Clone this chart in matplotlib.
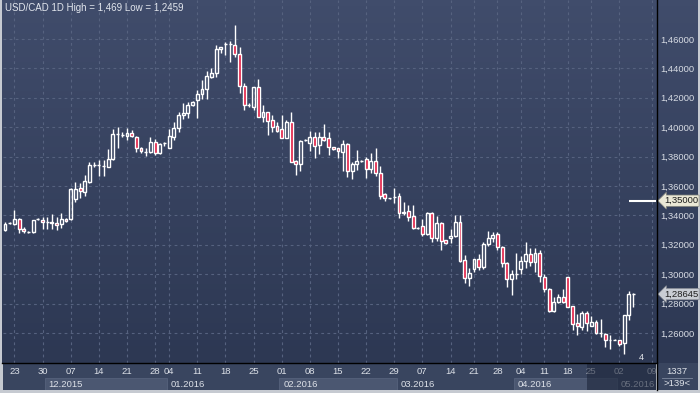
import numpy as np
import matplotlib
matplotlib.use('Agg')
import matplotlib.pyplot as plt
from matplotlib.patches import Rectangle
from matplotlib.lines import Line2D
from matplotlib.colors import LinearSegmentedColormap

plt.rcParams['font.family'] = ['Liberation Sans', 'DejaVu Sans']

# --- data (daily USD/CAD candles) ---
title = 'USD/CAD 1D High = 1,469 Low = 1,2459'

opens = [1.3301, 1.3349, 1.3342, 1.3376, 1.3308, 1.3290, 1.3287, 1.3376, 1.3369, 1.3355,
         1.3357, 1.3347, 1.3340, 1.3376, 1.3374, 1.3510, 1.3585, 1.3561, 1.3629, 1.3745,
         1.3742, 1.3736, 1.3731, 1.3782, 1.3954, 1.3950, 1.3940, 1.3963, 1.3936, 1.3857,
         1.3833, 1.3833, 1.3901, 1.3823, 1.3889, 1.3861, 1.3933, 1.3995, 1.4083, 1.4097,
         1.4151, 1.4183, 1.4224, 1.4260, 1.4343, 1.4367, 1.4530, 1.4563, 1.4564, 1.4559,
         1.4496, 1.4280, 1.4151, 1.4140, 1.4271, 1.4071, 1.4101, 1.4049, 1.4008, 1.3988,
         1.3929, 1.4033, 1.3772, 1.3748, 1.3911, 1.3891, 1.3931, 1.3879, 1.3931, 1.3925,
         1.3863, 1.3857, 1.3833, 1.3884, 1.3704, 1.3748, 1.3770, 1.3782, 1.3714, 1.3770,
         1.3687, 1.3544, 1.3517, 1.3524, 1.3532, 1.3426, 1.3430, 1.3396, 1.3317, 1.3328,
         1.3272, 1.3415, 1.3249, 1.3347, 1.3233, 1.3245, 1.3260, 1.3353, 1.3097, 1.2972,
         1.3034, 1.3102, 1.3047, 1.3204, 1.3245, 1.3272, 1.3183, 1.3079, 1.2966, 1.3004,
         1.3036, 1.3090, 1.3138, 1.3086, 1.3147, 1.2981, 1.2898, 1.2750, 1.2813, 1.2843,
         1.2979, 1.2784, 1.2667, 1.2643, 1.2734, 1.2650, 1.2673, 1.2598, 1.2592, 1.2553,
         1.2553, 1.2553, 1.2530, 1.2723, 1.2864]

highs = [1.3355, 1.3356, 1.3437, 1.3380, 1.3321, 1.3294, 1.3372, 1.3380, 1.3389, 1.3389,
         1.3410, 1.3392, 1.3414, 1.3380, 1.3585, 1.3629, 1.3623, 1.3675, 1.3765, 1.3765,
         1.3777, 1.3777, 1.3850, 1.3986, 1.4003, 1.3970, 1.3993, 1.3980, 1.3940, 1.3867,
         1.3857, 1.3936, 1.3918, 1.3890, 1.3901, 1.3986, 1.4035, 1.4103, 1.4165, 1.4169,
         1.4178, 1.4253, 1.4319, 1.4382, 1.4405, 1.4559, 1.4545, 1.4581, 1.4586, 1.4695,
         1.4543, 1.4299, 1.4163, 1.4274, 1.4328, 1.4151, 1.4104, 1.4083, 1.4037, 1.4083,
         1.4049, 1.4101, 1.3775, 1.3913, 1.3918, 1.3976, 1.3970, 1.3970, 1.4020, 1.3970,
         1.3867, 1.3860, 1.3913, 1.3890, 1.3765, 1.3845, 1.3775, 1.3795, 1.3823, 1.3857,
         1.3736, 1.3551, 1.3521, 1.3585, 1.3551, 1.3493, 1.3471, 1.3471, 1.3320, 1.3374,
         1.3425, 1.3426, 1.3396, 1.3357, 1.3236, 1.3308, 1.3403, 1.3403, 1.3131, 1.3041,
         1.3104, 1.3138, 1.3222, 1.3294, 1.3285, 1.3285, 1.3192, 1.3085, 1.3029, 1.3143,
         1.3124, 1.3222, 1.3177, 1.3177, 1.3165, 1.2998, 1.2905, 1.2847, 1.2864, 1.2898,
         1.2983, 1.2784, 1.2728, 1.2750, 1.2750, 1.2718, 1.2689, 1.2696, 1.2598, 1.2587,
         1.2556, 1.2553, 1.2723, 1.2886, 1.2870]

lows = [1.3294, 1.3342, 1.3338, 1.3281, 1.3281, 1.3283, 1.3283, 1.3370, 1.3308, 1.3308,
        1.3306, 1.3301, 1.3312, 1.3358, 1.3370, 1.3493, 1.3517, 1.3532, 1.3619, 1.3731,
        1.3668, 1.3668, 1.3729, 1.3780, 1.3857, 1.3936, 1.3913, 1.3936, 1.3833, 1.3823,
        1.3804, 1.3823, 1.3811, 1.3816, 1.3872, 1.3857, 1.3913, 1.3967, 1.4056, 1.4061,
        1.4147, 1.4065, 1.4190, 1.4190, 1.4337, 1.4343, 1.4507, 1.4491, 1.4441, 1.4479,
        1.4231, 1.4117, 1.4140, 1.4117, 1.4068, 1.4033, 1.3947, 1.3969, 1.3965, 1.3925,
        1.3925, 1.3760, 1.3675, 1.3702, 1.3906, 1.3838, 1.3789, 1.3816, 1.3906, 1.3811,
        1.3845, 1.3789, 1.3702, 1.3663, 1.3648, 1.3709, 1.3765, 1.3657, 1.3691, 1.3670,
        1.3512, 1.3500, 1.3512, 1.3483, 1.3381, 1.3403, 1.3364, 1.3308, 1.3310, 1.3260,
        1.3265, 1.3222, 1.3226, 1.3165, 1.3206, 1.3211, 1.3255, 1.3085, 1.2943, 1.2920,
        1.3018, 1.3029, 1.3034, 1.3192, 1.3222, 1.3165, 1.3052, 1.2911, 1.2859, 1.2966,
        1.3002, 1.3041, 1.3058, 1.3013, 1.2950, 1.2882, 1.2745, 1.2741, 1.2803, 1.2803,
        1.2777, 1.2621, 1.2587, 1.2621, 1.2616, 1.2648, 1.2594, 1.2571, 1.2507, 1.2494,
        1.2550, 1.2514, 1.2459, 1.2689, 1.2780]

closes = [1.3342, 1.3349, 1.3376, 1.3308, 1.3294, 1.3290, 1.3369, 1.3376, 1.3355, 1.3357,
          1.3347, 1.3333, 1.3374, 1.3362, 1.3582, 1.3582, 1.3566, 1.3634, 1.3743, 1.3745,
          1.3742, 1.3736, 1.3782, 1.3954, 1.3954, 1.3950, 1.3963, 1.3940, 1.3857, 1.3838,
          1.3833, 1.3901, 1.3823, 1.3884, 1.3889, 1.3940, 1.3995, 1.4083, 1.4097, 1.4151,
          1.4174, 1.4224, 1.4260, 1.4348, 1.4367, 1.4532, 1.4543, 1.4563, 1.4564, 1.4496,
          1.4280, 1.4151, 1.4151, 1.4271, 1.4071, 1.4101, 1.4042, 1.4003, 1.3976, 1.3929,
          1.4033, 1.3765, 1.3748, 1.3906, 1.3911, 1.3931, 1.3874, 1.3931, 1.3913, 1.3863,
          1.3850, 1.3838, 1.3884, 1.3704, 1.3748, 1.3770, 1.3770, 1.3714, 1.3770, 1.3687,
          1.3534, 1.3517, 1.3517, 1.3524, 1.3415, 1.3415, 1.3392, 1.3317, 1.3317, 1.3272,
          1.3415, 1.3249, 1.3347, 1.3228, 1.3211, 1.3260, 1.3353, 1.3090, 1.2972, 1.3007,
          1.3102, 1.3047, 1.3206, 1.3245, 1.3267, 1.3183, 1.3074, 1.2966, 1.3002, 1.3004,
          1.3090, 1.3138, 1.3086, 1.3147, 1.2988, 1.2898, 1.2750, 1.2813, 1.2843, 1.2813,
          1.2779, 1.2662, 1.2650, 1.2734, 1.2667, 1.2673, 1.2598, 1.2598, 1.2553, 1.2553,
          1.2553, 1.2524, 1.2723, 1.2864, 1.28645]

price_ticks = [1.26, 1.28, 1.30, 1.32, 1.34, 1.36, 1.38, 1.40, 1.42, 1.44, 1.46]

# week ticks, as bar numbers
day_ticks = [2, 8, 14, 20, 26, 32, 35, 41, 47, 53, 59, 65, 71, 77, 83,
             89, 95, 100, 105, 110, 115, 120, 125, 131, 138]
day_labels = ['23', '30', '07', '14', '21', '28', '04', '11', '18', '25', '01', '08', '15',
              '22', '29', '07', '14', '21', '28', '04', '11', '18', '25', '02', '09']

month_starts = [8.5, 34.5, 58.5, 83.5, 108.5, 130.5]
month_labels = ['12.2015', '01.2016', '02.2016', '03.2016', '04.2016', '05.2016']

last_price = 1.28645
alert_price = 1.35
alert_from = 133
future_from = 124.1   # shaded part of the time scale

# --- layout helpers (pixel boxes, origin top-left) ---
W, H = 700, 393
XMIN, XMAX = -0.43, 138.8
YMIN, YMAX = 1.2396, 1.4865

fig = plt.figure(figsize=(7, 3.93), dpi=100)
fig.patch.set_facecolor('#c6cad1')


def box(x0, y0, x1, y1):
    return [x0 / W, 1 - y1 / H, (x1 - x0) / W, (y1 - y0) / H]


def fx(x):
    return x / W


def fy(y):
    return 1 - y / H


# background gradient behind plot and price scale
bg = fig.add_axes(box(2, 0, 698, 363))
cmap = LinearSegmentedColormap.from_list('bg', ['#404c6b', '#2d3853'])
bg.imshow(np.linspace(0, 1, 64)[:, None], aspect='auto', cmap=cmap,
          extent=[0, 1, 0, 1], interpolation='nearest')
bg.set_axis_off()

# time scale strip
tx = fig.add_axes(box(3, 363, 656, 390))
tx.set_xlim(XMIN, XMAX)
tx.set_ylim(27, 0)
tx.set_axis_off()
tx.add_patch(Rectangle((XMIN, 0), XMAX - XMIN, 27, color='#39455f', zorder=0))

# right bottom corner box
cb = fig.add_axes(box(657, 363, 698, 390))
cb.set_axis_off()
cb.add_patch(Rectangle((0, 0), 1, 1, color='#39455f', transform=cb.transAxes))

# main price axes
ax = fig.add_axes(box(3, 0, 656, 363))
ax.set_facecolor('none')
ax.set_xlim(XMIN, XMAX)
ax.set_ylim(YMIN, YMAX)

ax.set_yticks(price_ticks)
ax.set_yticklabels([('%.5f' % p).replace('.', ',') for p in price_ticks])
ax.yaxis.tick_right()
ax.tick_params(axis='y', length=0, pad=3, labelsize=6.8, labelcolor='#d8dce4')
ax.set_xticks(day_ticks)
ax.tick_params(axis='x', length=0, labelbottom=False)
ax.grid(True, color='#56627f', lw=0.8, ls=(0, (2.5, 3)))
ax.set_axisbelow(True)
for s in ax.spines.values():
    s.set_visible(False)

# candles
o = np.array(opens)
h = np.array(highs)
l = np.array(lows)
c = np.array(closes)
idx = np.arange(len(o))
top = np.maximum(o, c)
bot = np.minimum(o, c)
up = c >= o

ax.vlines(idx, top, h, color='white', lw=1.0, zorder=3)
ax.vlines(idx, l, bot, color='white', lw=1.0, zorder=3)
ax.bar(idx[up], (top - bot)[up], bottom=bot[up], width=0.62,
       facecolor='none', edgecolor='white', lw=1.0, zorder=4)
ax.bar(idx[~up], (top - bot)[~up], bottom=bot[~up], width=0.62,
       facecolor='#e0163e', edgecolor='white', lw=1.0, zorder=4)

# alert line
ax.hlines(alert_price, alert_from, XMAX, color='white', lw=1.5, zorder=5)

# price flags on the scale
ytr = ax.get_yaxis_transform()
ax.text(1.012, alert_price, ('%.5f' % alert_price).replace('.', ','), transform=ytr,
        ha='left', va='center', fontsize=6.8, color='#1e1e1e', zorder=10, clip_on=False,
        bbox=dict(boxstyle='larrow,pad=0.12', fc='#ebe8d6', ec='#8a8a80', lw=0.5))
ax.text(1.012, last_price, ('%.5f' % last_price).replace('.', ','), transform=ytr,
        ha='left', va='center', fontsize=6.8, color='#1e1e1e', zorder=10, clip_on=False,
        bbox=dict(boxstyle='larrow,pad=0.12', fc='#c9cdd4', ec='#8a8e96', lw=0.5))

# title
fig.text(fx(5), fy(8), title, ha='left', va='center', fontsize=7, color='#e2e6ed')

# time scale labels
for i, (m0, lab) in enumerate(zip(month_starts, month_labels)):
    m1 = month_starts[i + 1] if i + 1 < len(month_starts) else XMAX
    if i % 2 == 0:
        tx.add_patch(Rectangle((m0, 15), m1 - m0, 12, fc='#4b5771', ec='#5a6680',
                               lw=0.5, zorder=1))
    tx.text(m0 + 0.8, 21.5, lab, ha='left', va='center', fontsize=6.8,
            color='#dde1e8', zorder=2)
for t, lab in zip(day_ticks, day_labels):
    tx.text(t, 8, lab, ha='center', va='center', fontsize=6.8, color='#dde1e8', zorder=2)
tx.add_patch(Rectangle((future_from, 0), XMAX - future_from, 27, fc='#1e273c',
                       alpha=0.62, zorder=5))

# corner box
fig.text(fx(677), fy(371), '1337', ha='center', va='center', fontsize=6.8, color='#dde1e8')
fig.text(fx(677), fy(384), '>139<', ha='center', va='center', fontsize=6.8, color='#dde1e8')
fig.add_artist(Line2D([fx(662), fx(692)], [fy(378), fy(378)], color='#7d879c', lw=0.6))

# small bar counter near the last candle
fig.text(fx(641), fy(358), '4', ha='center', va='center', fontsize=6.5, color='#e8eaee')

# black separators
fig.add_artist(Line2D([fx(2), fx(656.5)], [fy(363), fy(363)], color='black', lw=1.0))
fig.add_artist(Line2D([fx(656.5), fx(656.5)], [fy(0), fy(390)], color='black', lw=1.0))

fig.savefig('out.png', dpi=100, facecolor=fig.get_facecolor())
